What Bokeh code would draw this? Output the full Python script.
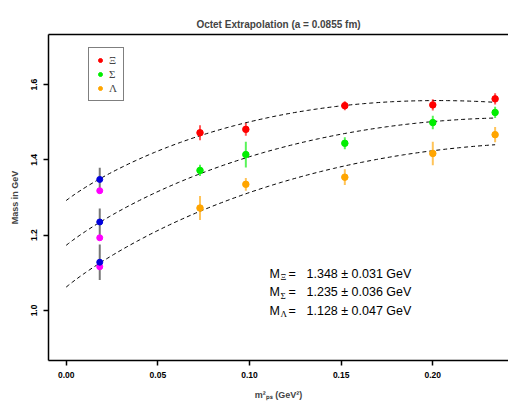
import numpy as np
from bokeh.plotting import figure
from bokeh.models import (Range1d, LinearAxis, FixedTicker, NumeralTickFormatter,
                          Label, Legend, LegendItem)
from bokeh.embed import file_html
from bokeh.resources import INLINE

# ---------------- data ----------------
title_text = "Octet Extrapolation (a = 0.0855 fm)"
x_title = "m²ₚₛ (GeV²)"
y_title = "Mass in GeV"
series_names = ["Ξ", "Σ", "Λ"]
series_colors = ["#FF0000", "#00EE00", "#FFA500"]

m2 = [0.073, 0.098, 0.152, 0.200, 0.234]
xi = [1.472, 1.481, 1.544, 1.546, 1.562]
xi_err = [0.020, 0.017, 0.012, 0.015, 0.015]
sigma = [1.372, 1.414, 1.444, 1.499, 1.526]
sigma_err = [0.015, 0.034, 0.016, 0.018, 0.015]
lam = [1.272, 1.335, 1.354, 1.417, 1.467]
lam_err = [0.032, 0.017, 0.021, 0.031, 0.020]

m2_phys = 0.0183
extrap = [1.348, 1.235, 1.128]
extrap_err = [0.031, 0.036, 0.047]
phys_mass = [1.318, 1.193, 1.116]

# fit: M = M0 + c2 * m^2 + c3 * m^3
fit_M0 = [1.292, 1.173, 1.062]
fit_c2 = [3.93, 4.067, 4.204]
fit_c3 = [-5.82, -5.42, -5.35]
fit_xmax = 0.234

x_ticks = [0.00, 0.05, 0.10, 0.15, 0.20]
y_ticks = [1.0, 1.2, 1.4, 1.6]

# ---------------- layout constants ----------------
FL, FB = 48, 360   # frame left / bottom in canvas pixels
SANS = "Liberation Sans"
SERIF = "Liberation Serif"

p = figure(width=508, height=403, output_backend="svg", toolbar_location=None,
           x_range=Range1d(-0.00966, 0.2413), y_range=Range1d(0.867, 1.733),
           min_border_left=FL, min_border_right=0, min_border_top=34,
           min_border_bottom=403 - FB)
p.outline_line_color = None
p.grid.visible = False
p.background_fill_color = "white"
p.border_fill_color = "white"

p.title.text = title_text
p.title.align = "center"
p.title.text_font = SANS
p.title.text_font_style = "bold"
p.title.text_font_size = "10px"

# axes
xa = p.xaxis[0]
xa.ticker = FixedTicker(ticks=x_ticks)
xa.formatter = NumeralTickFormatter(format="0.00")
xa.axis_label = x_title
xa.axis_label_standoff = 9
ya = p.yaxis[0]
ya.ticker = FixedTicker(ticks=y_ticks)
ya.formatter = NumeralTickFormatter(format="0.0")
ya.major_label_orientation = "vertical"
ya.axis_label = y_title
ya.axis_label_standoff = 9
for ax in (xa, ya):
    ax.axis_label_text_font = SANS
    ax.axis_label_text_font_style = "bold"
    ax.axis_label_text_font_size = "9px"
    ax.axis_line_width = 1.5
    ax.axis_line_color = "black"
    ax.major_tick_out = 5
    ax.major_tick_in = 0
    ax.major_tick_line_width = 1.5
    ax.minor_tick_out = 0
    ax.minor_tick_in = 0
    ax.major_label_text_font = SANS
    ax.major_label_text_font_style = "bold"
    ax.major_label_text_font_size = "8.5px"
    ax.major_label_text_color = "black"
    ax.major_label_standoff = 6

# top frame line (no ticks); its tick extent only reserves room below the title
top_axis = LinearAxis(ticker=FixedTicker(ticks=[]), major_tick_out=8, major_tick_in=0,
                      minor_tick_out=0, minor_tick_in=0, major_label_text_font_size="0px",
                      major_label_standoff=0,
                      axis_line_width=1.5, axis_line_color="black")
p.add_layout(top_axis, "above")

# fitted curves
xs = np.linspace(0.0, fit_xmax, 200)
for M0, c2, c3 in zip(fit_M0, fit_c2, fit_c3):
    ys = M0 + c2 * xs + c3 * xs ** 1.5
    p.line(xs, ys, line_color="black", line_width=1, line_dash="4 3")

# data with error bars
renderers = []
for vals, errs, col in zip([xi, sigma, lam], [xi_err, sigma_err, lam_err], series_colors):
    lo = [v - e for v, e in zip(vals, errs)]
    hi = [v + e for v, e in zip(vals, errs)]
    p.segment(m2, lo, m2, hi, line_color=col, line_width=2, line_alpha=0.65)
    r = p.scatter(m2, vals, size=6.5, fill_color=col, line_color=col, marker="circle")
    renderers.append(r)

# physical point: extrapolations and experimental values
px = [m2_phys] * len(extrap)
p.segment(px, [v - e for v, e in zip(extrap, extrap_err)],
          px, [v + e for v, e in zip(extrap, extrap_err)],
          line_color="#777777", line_width=2)
p.scatter(px, phys_mass, size=6, fill_color="#FF00FF", line_color="#FF00FF")
p.scatter(px, extrap, size=6, fill_color="#0000DD", line_color="#0000DD")

# legend (location = bottom-left corner, frame pixels)
legend = Legend(items=[LegendItem(label=n, renderers=[r]) for n, r in zip(series_names, renderers)],
                location=(40, FB - 101), orientation="vertical",
                border_line_color="black", border_line_width=1,
                background_fill_color="white", background_fill_alpha=1,
                padding=6, spacing=2, margin=0, glyph_width=10, glyph_height=12,
                label_standoff=4, label_height=12, label_width=8,
                label_text_font=SERIF, label_text_font_size="11px")
p.add_layout(legend)


def clabel(cx, cy, text, size, font=SANS, style="normal", align="left", baseline="middle"):
    p.add_layout(Label(x=cx - FL, y=FB - cy, x_units="screen", y_units="screen", text=text,
                       text_font=font, text_font_size=size, text_font_style=style,
                       text_align=align, text_baseline=baseline, text_color="black"))


# extrapolated values text
row_y = [273.3, 291.7, 310.0]
for name, v, e, cy in zip(series_names, extrap, extrap_err, row_y):
    clabel(269, cy, "M", "12.5px")
    clabel(280, cy + 3.5, name, "9px", font=SERIF)
    clabel(288, cy, "=", "12.5px")
    clabel(306, cy, f"{v:.3f} ± {e:.3f} GeV", "12.5px")

open("out.html", "w").write(file_html(p, INLINE))
